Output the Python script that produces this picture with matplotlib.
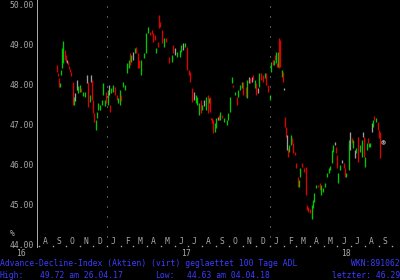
import matplotlib
matplotlib.use("Agg")
import matplotlib.pyplot as plt
import matplotlib.transforms as mtransforms
import pandas as pd

# ---------------- data ----------------
# bar dates as day offsets from 2017-01-01
day_offset = [-112, -110, -107, -105, -103, -101, -99, -94, -92, -90, -87, -85, -83, -81,
              -76, -74, -72, -67, -65, -60, -58, -54, -49, -45, -43, -38, -36, -34, -31, -29,
              -25, -22, -20, -16, -11, -9, -4, -2, 2, 4, 7, 9, 13, 18, 22, 25, 29, 31, 36, 40,
              45, 49, 51, 54, 58, 63, 65, 69, 72, 76, 83, 87, 92, 96, 101, 103, 107, 110, 114,
              116, 119, 123, 128, 132, 139, 146, 148, 152, 157, 163, 166, 170, 175, 179, 184,
              186, 190, 195, 199, 202, 206, 210, 213, 217, 222, 226, 228, 231, 233, 235, 237,
              242, 244, 249, 251, 253, 257, 262, 269, 271, 275, 280, 282, 287, 291, 293, 298,
              302, 305, 311, 313, 318, 320, 325, 327, 331, 334, 338, 340, 345, 349, 354, 356,
              360, 365, 367, 372, 374, 376, 378, 381, 383, 385, 387, 392, 394, 396, 399, 401,
              403, 405, 407, 412, 414, 416, 421, 423, 428, 430, 432, 437, 441, 446, 448, 450,
              455, 459, 461, 463, 468, 472, 477, 479, 484, 488, 493, 497, 499, 504, 506, 510,
              513, 515, 517, 522, 526, 531, 533, 535, 542, 544, 549, 551, 555, 558, 562, 566,
              571, 573, 575, 578, 582, 584, 587, 589, 593, 596, 598, 602, 607, 609, 611, 618]
bar_high = [48.48, 48.28, 48.15, 48.03, 48.35, 48.90, 49.08, 48.85, 48.73, 48.60, 48.55, 48.45, 48.38, 48.30,
            48.05, 47.68, 47.78, 48.10, 47.95, 47.98, 47.90, 47.80, 47.80, 48.23, 48.05, 47.73, 48.23, 48.10, 47.60, 47.28,
            47.10, 47.30, 47.53, 47.48, 47.60, 48.03, 47.60, 47.80, 47.85, 47.98, 47.48, 47.90, 47.98, 47.93, 47.73, 47.65, 47.85, 47.73, 48.05, 47.98,
            48.53, 48.60, 48.78, 48.73, 48.80, 48.90, 48.93, 48.78, 48.60, 48.60, 48.78, 49.28, 49.43, 49.30, 49.35, 49.28, 49.23, 48.90, 49.05,
            49.72, 49.55, 49.35, 49.15, 49.15, 48.68, 48.73, 48.98, 48.90, 48.80, 48.85, 48.98, 49.03, 49.03, 48.93, 48.35,
            48.30, 47.90, 47.80, 47.73, 47.68, 47.53, 47.60, 47.48, 47.60, 47.68, 47.73, 47.65, 47.68, 47.15, 47.15, 47.10,
            47.03, 47.15, 47.18, 47.23, 47.30, 47.23, 47.15, 47.10, 47.28, 47.68, 48.18, 47.98, 47.80, 47.68, 47.85, 47.98,
            48.05, 48.05, 47.93, 48.10, 48.18, 48.15, 48.18, 48.23, 48.10, 48.03, 47.90, 48.28, 48.28, 48.23, 48.28, 48.28,
            47.98, 47.73, 48.55, 48.60, 48.60, 48.73, 48.80, 48.53, 48.80, 49.15, 49.10, 48.35, 48.30, 47.90, 47.18, 46.93,
            46.73, 46.40, 46.48, 46.73, 46.65, 46.53, 46.30, 46.03, 45.68, 45.60, 45.90, 46.03, 45.90, 45.93, 44.98, 44.93,
            44.88, 44.98, 45.10, 45.28, 45.48, 45.48, 45.53, 45.48, 45.40, 45.53, 45.78, 45.90, 45.95, 46.35, 46.48, 46.55,
            46.43, 46.23, 45.78, 45.98, 46.10, 46.03, 45.90, 45.78, 46.60, 46.80, 46.65, 46.60, 46.35, 46.40, 46.68, 46.48,
            46.60, 46.80, 46.68, 46.18, 46.53, 46.65, 46.53, 46.53, 47.03, 47.10, 47.20, 47.15, 47.05, 46.85, 46.80, 46.60]
bar_low = [48.30, 48.20, 47.93, 47.93, 48.23, 48.40, 48.53, 48.60, 48.55, 48.53, 48.48, 48.38, 48.30, 48.20,
           47.48, 47.48, 47.58, 47.85, 47.78, 47.80, 47.80, 47.70, 47.68, 48.03, 47.43, 47.55, 48.05, 47.60, 47.28, 47.05,
           46.85, 47.15, 47.35, 47.35, 47.48, 47.73, 47.45, 47.53, 47.48, 47.73, 47.30, 47.78, 47.80, 47.73, 47.60, 47.53, 47.48, 47.58, 47.93, 47.85,
           48.28, 48.40, 48.48, 48.55, 48.60, 48.78, 48.78, 48.40, 48.40, 48.23, 48.65, 48.78, 49.28, 49.23, 49.25, 49.05, 49.10, 48.78, 48.93,
           49.40, 49.43, 49.03, 48.93, 49.05, 48.53, 48.55, 48.78, 48.73, 48.68, 48.68, 48.80, 48.85, 48.93, 48.35, 48.23,
           48.05, 47.55, 47.60, 47.53, 47.48, 47.23, 47.28, 47.35, 47.45, 47.35, 47.28, 47.53, 47.30, 47.10, 47.03, 46.78,
           46.80, 46.90, 47.10, 47.10, 47.10, 47.15, 47.05, 46.98, 47.10, 47.30, 48.03, 47.93, 47.73, 47.48, 47.68, 47.85,
           47.90, 47.73, 47.68, 47.65, 48.03, 48.03, 48.05, 48.10, 47.90, 47.73, 47.78, 47.93, 48.10, 48.05, 48.15, 47.98,
           47.80, 47.60, 48.30, 48.48, 48.48, 48.60, 48.53, 48.43, 48.43, 48.40, 48.43, 48.18, 48.05, 47.85, 46.93, 46.68,
           46.35, 46.18, 46.30, 46.48, 46.53, 46.28, 46.23, 45.90, 45.43, 45.43, 45.68, 45.93, 45.80, 45.23, 44.85, 44.80,
           44.78, 44.63, 44.90, 45.05, 45.40, 45.43, 45.35, 45.23, 45.30, 45.43, 45.68, 45.78, 45.85, 46.03, 46.30, 46.48,
           46.28, 45.90, 45.53, 45.85, 46.03, 45.90, 45.68, 45.68, 45.85, 46.35, 46.53, 46.40, 46.15, 46.28, 46.05, 46.30,
           46.18, 46.68, 46.18, 45.93, 46.35, 46.53, 46.43, 46.43, 46.80, 46.93, 47.10, 47.05, 46.85, 46.65, 46.15, 46.53]
# g = up (green), r = down (red), n = unchanged (grey)
bar_dir = list("rrrgggg" "rrnrrrr" "rgnnggrggnrgnrrr" "gggggggrgnrgg" "rrggrggggrgn"
               "grrrggggrrrr" "grrrrgrrgrngggng" "rrrrngggrgngrgrrrr" "ggnrgrgggggrgrgggrrg"
               "nrnrgrngrrgrrg" "grgrgrgrrgrn" "rrnrggrrrrrggrrrrrr" "ggggrrggggggggnrrggnrrg"
               "gnrgngrggnrggrggngrgrrrn")

month_letters = list("ASONDJFMAMJJASONDJFMAMJJAS")
month_start = pd.date_range("2016-08-01", periods=27, freq="MS")
month_mid = month_start[:26] + pd.Timedelta(days=14)
year_labels = ["16", "17", "18"]
year_label_dates = pd.to_datetime(["2016-06-22", "2017-06-27", "2018-06-20"])
year_lines = pd.to_datetime(["2017-01-01", "2018-01-01"])
y_ticks = [44, 45, 46, 47, 48, 49, 50]

title_text = "Advance-Decline-Index (Aktien) (virt) geglaettet 100 Tage ADL"
wkn_text = "WKN:891062"
high_text = "49.72 am 26.04.17"
low_text = "44.63 am 04.04.18"
last_text = "letzter: 46.29"

# ---------------- plot ----------------
dates = pd.Timestamp("2017-01-01") + pd.to_timedelta(day_offset, unit="D")
cmap = {"g": "#00c800", "r": "#e00000", "n": "#a0a0a0"}
colors = [cmap[d] for d in bar_dir]

W, H = 400, 280
fig = plt.figure(figsize=(W / 100, H / 100), dpi=100, facecolor="black")
ax_bottom_px = 247
ax = fig.add_axes([37 / W, (H - ax_bottom_px) / H, (W - 37) / W, ax_bottom_px / H])
ax.set_facecolor("black")

px = 72 / 100  # one pixel in points
mono = "DejaVu Sans Mono"
fs = 5.8
grey = "#a8a8a8"
blue = "#3c3cff"

ax.vlines(dates, bar_low, bar_high, colors=colors, linewidth=1.3 * px)
ax.plot([dates[-1]], [bar_low[-1] + 0.03], marker="o", ms=2.5, mfc="none", mec=grey, mew=0.7)

for d in year_lines:
    ax.axvline(d, color=grey, lw=px, linestyle=(0, (1, 9)))

ax.set_xlim(pd.Timestamp("2016-07-28"), pd.Timestamp("2018-10-19"))
ax.set_ylim(50.1 - ax_bottom_px / 40, 50.1)

for s in ["top", "right", "bottom"]:
    ax.spines[s].set_visible(False)
ax.spines["left"].set_color(grey)
ax.spines["left"].set_linewidth(px)

ax.set_xticks([])
ax.set_yticks(y_ticks)
ax.set_yticklabels([f"{v:.2f}" for v in y_ticks], fontsize=fs, family=mono, color=grey)
ax.tick_params(axis="y", length=0, pad=2.2)

trans = mtransforms.blended_transform_factory(ax.transData, ax.transAxes)
for d, lab in zip(month_mid, month_letters):
    ax.text(d, 6 / ax_bottom_px, lab, transform=trans, fontsize=fs, family=mono,
            color=grey, ha="center", va="center", clip_on=False)
ax.plot(month_start, [1.5 / ax_bottom_px] * len(month_start), ls="none", marker="s",
        ms=1.0, mfc=grey, mec="none", transform=trans, clip_on=False)

trans_y = mtransforms.blended_transform_factory(ax.transData, fig.transFigure)
for d, lab in zip(year_label_dates, year_labels):
    ax.text(d, (H - 253) / H, lab, transform=trans_y, fontsize=fs, family=mono,
            color=grey, ha="center", va="center", clip_on=False)

fig.text(10 / W, (H - 234) / H, "%", fontsize=fs, family=mono, color=grey, ha="left", va="center")

fig.text(0, (H - 263.5) / H, title_text, fontsize=fs, family=mono, color=blue, ha="left", va="center")
fig.text(1, (H - 263.5) / H, wkn_text, fontsize=fs, family=mono, color=blue, ha="right", va="center")
fig.text(0, (H - 275) / H, "High:", fontsize=fs, family=mono, color=blue, ha="left", va="center")
fig.text(40 / W, (H - 275) / H, high_text, fontsize=fs, family=mono, color=blue, ha="left", va="center")
fig.text(155 / W, (H - 275) / H, "Low:", fontsize=fs, family=mono, color=blue, ha="left", va="center")
fig.text(187 / W, (H - 275) / H, low_text, fontsize=fs, family=mono, color=blue, ha="left", va="center")
fig.text(1, (H - 275) / H, last_text, fontsize=fs, family=mono, color=blue, ha="right", va="center")

fig.savefig("out.png", dpi=100, facecolor="black")
